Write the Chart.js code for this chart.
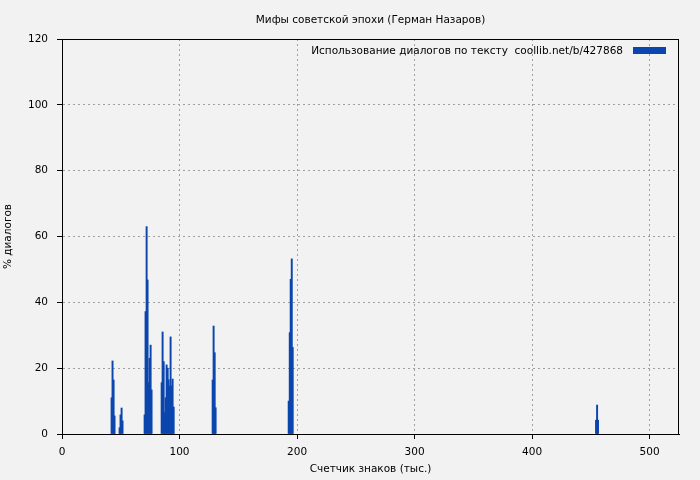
<!DOCTYPE html>
<html>
<head>
<meta charset="utf-8">
<script src="https://cdn.jsdelivr.net/npm/chart.js@4.4.1/dist/chart.umd.min.js"></script>
<style>
  html, body { margin: 0; padding: 0; background: #f2f2f2; }
  #wrap { width: 700px; height: 480px; }
</style>
</head>
<body>
<div id="wrap"><canvas id="chartDialogs"></canvas></div>
<script>
// позиции (тыс. знаков) и доля диалогов (%)
const positions = [
  42.2, 43.0, 43.9, 44.7,
  49.0, 49.8, 50.7, 51.5,
  70.3, 71.1, 72.0, 72.8, 73.7, 74.5, 75.4, 76.2,
  84.8, 85.6, 86.5, 87.3, 88.2, 89.0, 89.9, 90.7, 91.6, 92.4, 93.3, 94.1, 95.0,
  128.2, 129.0, 129.9, 130.7,
  192.9, 193.8, 194.6, 195.5, 196.3,
  454.4, 455.3, 456.1
];
const percents = [
  11, 22.2, 16.4, 5.5,
  1.9, 5.8, 7.9, 4,
  5.8, 37.2, 63, 46.8, 15.6, 23, 27, 13.4,
  15.6, 31, 22, 6.5, 11, 21, 20, 16.5, 14.6, 29.5, 14.6, 16.7, 8.2,
  16.4, 32.8, 24.7, 8,
  10, 30.8, 47, 53.2, 26.3,
  4.2, 8.8, 4.2
];
const xTicks = [0, 100, 200, 300, 400, 500];
const yTicks = [0, 20, 40, 60, 80, 100, 120];

const titleText = 'Мифы советской эпохи (Герман Назаров)';
const seriesLabel = 'Использование диалогов по тексту  coollib.net/b/427868';
const barColor = '#0b46ae';
const font = 'DejaVu Sans';
const fontSize = 10.5;

// рамка вокруг области графика
const frame = {
  id: 'frame',
  afterDraw(chart) {
    const { ctx, chartArea: a } = chart;
    ctx.save();
    ctx.strokeStyle = '#000';
    ctx.lineWidth = 1;
    ctx.strokeRect(Math.round(a.left) + 0.5, Math.round(a.top) + 0.5,
      Math.round(a.right - a.left) - 1, Math.round(a.bottom - a.top));
    ctx.restore();
  }
};

// легенда в стиле gnuplot: текст, потом образец справа
const gnuLegend = {
  id: 'gnuLegend',
  afterDraw(chart) {
    const { ctx, chartArea: a } = chart;
    const ds = chart.data.datasets[0];
    ctx.save();
    ctx.font = fontSize + 'px "' + font + '"';
    ctx.fillStyle = '#000';
    ctx.textAlign = 'right';
    ctx.textBaseline = 'middle';
    ctx.fillText(ds.label, a.right - 56, a.top + 12);
    ctx.fillStyle = ds.backgroundColor;
    ctx.fillRect(a.right - 46, a.top + 8, 33, 7);
    ctx.restore();
  }
};

new Chart('chartDialogs', {
  type: 'bar',
  data: {
    datasets: [{
      label: seriesLabel,
      data: positions.map((x, i) => ({ x: x, y: percents[i] })),
      backgroundColor: barColor,
      borderWidth: 0,
      barThickness: 1.3
    }]
  },
  options: {
    responsive: true,
    maintainAspectRatio: false,
    animation: false,
    layout: { padding: { left: 0, right: 21, top: 0, bottom: 0 } },
    plugins: {
      legend: { display: false },
      tooltip: { enabled: false },
      title: {
        display: true,
        text: titleText,
        fullSize: false,
        color: '#000',
        font: { family: font, size: fontSize, weight: 'normal' },
        padding: { top: 14, bottom: 12.4 }
      }
    },
    scales: {
      x: {
        type: 'linear',
        min: 0,
        max: 525,
        offset: false,
        afterFit(scale) { scale.height = 46; },
        afterBuildTicks(scale) { scale.ticks = xTicks.map(v => ({ value: v })); },
        ticks: { color: '#000', padding: 7, autoSkip: false, maxRotation: 0, font: { family: font, size: fontSize } },
        grid: {
          offset: false,
          color: '#a0a0a0',
          tickColor: '#000',
          tickLength: 5,
          drawTicks: true
        },
        border: { display: true, color: '#000', dash: [2, 3] },
        title: {
          display: true,
          text: 'Счетчик знаков (тыс.)',
          color: '#000',
          font: { family: font, size: fontSize },
          padding: { top: 0, bottom: 4 }
        }
      },
      y: {
        min: 0,
        max: 120,
        afterFit(scale) { scale.width = 62; },
        afterBuildTicks(scale) { scale.ticks = yTicks.map(v => ({ value: v })); },
        ticks: { color: '#000', padding: 9, font: { family: font, size: fontSize } },
        grid: {
          color: '#a0a0a0',
          tickColor: '#000',
          tickLength: 5,
          drawTicks: true
        },
        border: { display: true, color: '#000', dash: [2, 3] },
        title: {
          display: true,
          text: '% диалогов',
          color: '#000',
          font: { family: font, size: fontSize },
          padding: { top: 2, bottom: 0 }
        }
      }
    }
  },
  plugins: [frame, gnuLegend]
});
</script>
</body>
</html>
